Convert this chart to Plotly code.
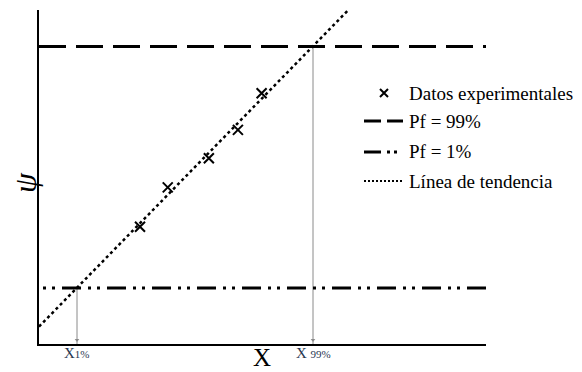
import plotly.graph_objects as go

# ---- data (arbitrary units, axes 0..10) ----
data_x = [2.26, 2.88, 3.80, 4.45, 4.98]
data_y = [3.51, 4.69, 5.56, 6.41, 7.51]
trend_x = [0.0, 6.92]
trend_y = [0.52, 10.0]
pf99_level = 8.91
pf1_level = 1.68
x1_value = 0.85
x99_value = 6.13
axis_span = [0, 10]
tick_labels = ["X<span style='font-size:11px'>1%</span>",
               "X <span style='font-size:11px'>99%</span>"]
legend_names = ["Datos experimentales", "Pf = 99%", "Pf = 1%", "Línea de tendencia"]

# page body has an 8px margin: draw a figure 8px smaller and shift reference pixels
OFF = 8
W, H = 582 - OFF, 372 - OFF
SERIF = "Liberation Serif, Times New Roman, serif"
PLOT_L, PLOT_R, PLOT_T, PLOT_B = 39, 486, 10, 344


def px(x):
    return (x - OFF) / W


def py(y):
    return 1 - (y - OFF) / H


fig = go.Figure()

# vertical guide lines
for xv, lvl in [(x1_value, pf1_level), (x99_value, pf99_level)]:
    fig.add_trace(go.Scatter(x=[xv, xv], y=[0, lvl], mode="lines",
                             line=dict(color="#8a8a8a", width=1), showlegend=False,
                             hoverinfo="skip"))
fig.add_trace(go.Scatter(x=[x1_value, x99_value], y=[0.12, 0.12], mode="markers",
                         marker=dict(symbol="triangle-down", size=4, color="#8a8a8a"),
                         showlegend=False, cliponaxis=False, hoverinfo="skip"))

# Pf = 99 %
fig.add_trace(go.Scatter(x=axis_span, y=[pf99_level, pf99_level], mode="lines",
                         line=dict(color="black", width=3, dash="27px,10px"),
                         name=legend_names[1], showlegend=False))
# Pf = 1 % (drawn right to left so the pattern ends with a dash at the right)
fig.add_trace(go.Scatter(x=axis_span[::-1], y=[pf1_level, pf1_level], mode="lines",
                         line=dict(color="black", width=3, dash="19px,7px,3px,6px,3px,7px"),
                         name=legend_names[2], showlegend=False))
# trend line
fig.add_trace(go.Scatter(x=trend_x, y=trend_y, mode="lines",
                         line=dict(color="black", width=2.5, dash="dot"),
                         name=legend_names[3], showlegend=False))
# data points
fig.add_trace(go.Scatter(x=data_x, y=data_y, mode="markers",
                         marker=dict(symbol="x-thin", size=10,
                                     line=dict(color="black", width=2)),
                         name=legend_names[0], showlegend=False))

# ---- hand-made legend on an overlay axis in (reference) pixel units ----
leg_y = [93, 121, 152, 181]
ox = dict(xaxis="x2", yaxis="y2", showlegend=False, hoverinfo="skip")
fig.add_trace(go.Scatter(x=[384], y=[leg_y[0]], mode="markers",
                         marker=dict(symbol="x-thin", size=8, line=dict(color="black", width=2)),
                         **ox))
fig.add_trace(go.Scatter(x=[364, 403], y=[leg_y[1]] * 2, mode="lines",
                         line=dict(color="black", width=3, dash="17px,6px"), **ox))
fig.add_trace(go.Scatter(x=[364, 403], y=[leg_y[2]] * 2, mode="lines",
                         line=dict(color="black", width=3, dash="17px,6px,3px,4px,3px,30px"),
                         **ox))
fig.add_trace(go.Scatter(x=[364, 403], y=[leg_y[3]] * 2, mode="lines",
                         line=dict(color="black", width=2, dash="2px,2px"), **ox))

annotations = []
for name, yy in zip(legend_names, leg_y):
    annotations.append(dict(x=px(407), y=py(yy), xref="paper", yref="paper",
                            text=name, showarrow=False, xanchor="left", yanchor="middle",
                            font=dict(family=SERIF, size=19, color="black")))
# tick-like labels under the guide lines
for xv, lab in zip([x1_value, x99_value], tick_labels):
    annotations.append(dict(x=xv, y=py(353), xref="x", yref="paper", text=lab,
                            showarrow=False, xanchor="center", yanchor="middle",
                            font=dict(family=SERIF, size=15, color="#283650")))
annotations.append(dict(x=px(262), y=py(357), xref="paper", yref="paper", text="X",
                        showarrow=False, xanchor="center", yanchor="middle",
                        font=dict(family=SERIF, size=25, color="black")))
annotations.append(dict(x=px(25), y=py(183), xref="paper", yref="paper", text="<i>ψ</i>",
                        showarrow=False, xanchor="center", yanchor="middle", textangle=-90,
                        font=dict(family=SERIF, size=32, color="black")))

fig.update_layout(
    width=W, height=H, margin=dict(l=0, r=0, t=0, b=0),
    paper_bgcolor="white", plot_bgcolor="white",
    xaxis=dict(domain=[px(PLOT_L), px(PLOT_R)], range=axis_span, showgrid=False,
               zeroline=False, showline=True, linecolor="black", linewidth=2, ticks="",
               showticklabels=False),
    yaxis=dict(domain=[py(PLOT_B), py(PLOT_T)], range=axis_span, showgrid=False,
               zeroline=False, showline=True, linecolor="black", linewidth=2,
               showticklabels=False, ticks=""),
    # overlay axes share the main domain; their ranges are the reference pixel bounds
    xaxis2=dict(range=[PLOT_L, PLOT_R], visible=False, overlaying="x", anchor="y2"),
    yaxis2=dict(range=[PLOT_B, PLOT_T], visible=False, overlaying="y", anchor="x2"),
    annotations=annotations,
    showlegend=False,
)

fig.write_html("out.html")
